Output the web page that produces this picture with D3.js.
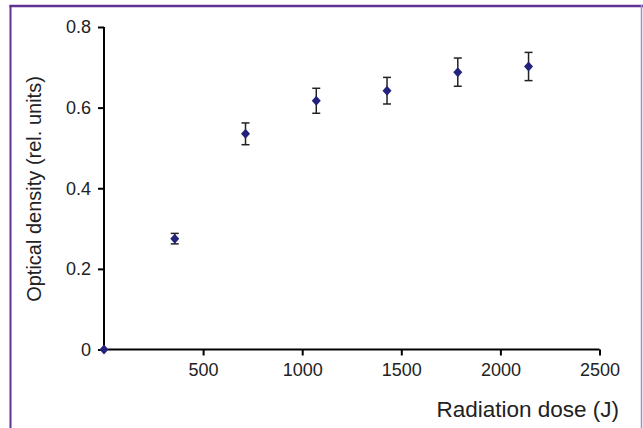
<!DOCTYPE html>
<html>
<head>
<meta charset="utf-8">
<script src="https://cdn.jsdelivr.net/npm/d3@7"></script>
<style>
  body { margin: 0; background: #fff; }
  svg { display: block; }
  .axis path, .axis line { stroke: #000; stroke-width: 2; }
  .axis text { font-family: "Liberation Sans", Arial, sans-serif; font-size: 18px; fill: #222; }
  .title { font-family: "Liberation Sans", Arial, sans-serif; font-size: 20px; fill: #222; }
</style>
</head>
<body>
<div id="chart"></div>
<script>
// chart size and where the plot area sits
const width = 643,
  height = 428,
  margins = { top: 27, bottom: 78.5, left: 104, right: 43.5 };

// data
const doses = [0, 357, 714, 1071, 1428, 1785, 2142];
const density = [0, 0.275, 0.535, 0.617, 0.642, 0.688, 0.702];
const errors = [0, 0.013, 0.027, 0.031, 0.033, 0.035, 0.035];
const xTicks = [500, 1000, 1500, 2000, 2500];
const yTicks = [0, 0.2, 0.4, 0.6, 0.8];

const points = doses.map((d, i) => ({ dose: d, od: density[i], err: errors[i] }));

const svg = d3.select("#chart")
  .append("svg")
  .attr("width", width)
  .attr("height", height);

// frame round the figure
svg.append("line").attr("x1", 9.5).attr("x2", 643).attr("y1", 6).attr("y2", 6)
  .attr("stroke", "#5e3391").attr("stroke-width", 2.5);
svg.append("line").attr("x1", 10.5).attr("x2", 10.5).attr("y1", 5).attr("y2", height)
  .attr("stroke", "#5e3391").attr("stroke-width", 2);
svg.append("line").attr("x1", 641.5).attr("x2", 641.5).attr("y1", 5).attr("y2", height)
  .attr("stroke", "#a48cc6").attr("stroke-width", 1.5);

const xScale = d3.scaleLinear()
  .domain([0, 2500])
  .range([margins.left, width - margins.right]);

const yScale = d3.scaleLinear()
  .domain([0, 0.8])
  .range([height - margins.bottom, margins.top]);

// x axis
svg.append("g")
  .attr("class", "axis")
  .attr("transform", `translate(0, ${height - margins.bottom})`)
  .call(d3.axisBottom(xScale).tickValues(xTicks).tickSize(6).tickSizeOuter(0).tickPadding(8)
    .tickFormat(d3.format("d")))
  .call(g => g.select(".domain").attr("d", `M${xScale(0)},0H${xScale(2500)}`));

// y axis
svg.append("g")
  .attr("class", "axis")
  .attr("transform", `translate(${margins.left}, 0)`)
  .call(d3.axisLeft(yScale).tickValues(yTicks).tickSize(6).tickSizeOuter(0).tickPadding(7)
    .tickFormat(d => d === 0 ? "0" : d3.format(".1f")(d)))
  .call(g => g.select(".domain").attr("d", `M0,${yScale(0)}V${yScale(0.8)}`));

svg.append("text")
  .attr("class", "title")
  .attr("transform", `translate(41, ${189})rotate(-90)`)
  .attr("text-anchor", "middle")
  .text("Optical density (rel. units)");

svg.append("text")
  .attr("class", "title")
  .attr("x", 619)
  .attr("y", 417)
  .attr("text-anchor", "end")
  .style("font-size", "22.5px")
  .text("Radiation dose (J)");

// error bars
const bars = svg.selectAll(".err")
  .data(points.filter(d => d.err > 0))
  .join("g")
  .attr("class", "err")
  .attr("stroke", "#222")
  .attr("stroke-width", 1.5);

bars.append("line")
  .attr("x1", d => xScale(d.dose)).attr("x2", d => xScale(d.dose))
  .attr("y1", d => yScale(d.od + d.err)).attr("y2", d => yScale(d.od - d.err));
bars.append("line")
  .attr("x1", d => xScale(d.dose) - 4).attr("x2", d => xScale(d.dose) + 4)
  .attr("y1", d => yScale(d.od + d.err)).attr("y2", d => yScale(d.od + d.err));
bars.append("line")
  .attr("x1", d => xScale(d.dose) - 4).attr("x2", d => xScale(d.dose) + 4)
  .attr("y1", d => yScale(d.od - d.err)).attr("y2", d => yScale(d.od - d.err));

// diamond markers
svg.selectAll(".dot")
  .data(points)
  .join("path")
  .attr("class", "dot")
  .attr("d", "M0,-5L4.5,0L0,5L-4.5,0Z")
  .attr("transform", d => `translate(${xScale(d.dose)},${yScale(d.od)})`)
  .attr("fill", "#23237e");
</script>
</body>
</html>
